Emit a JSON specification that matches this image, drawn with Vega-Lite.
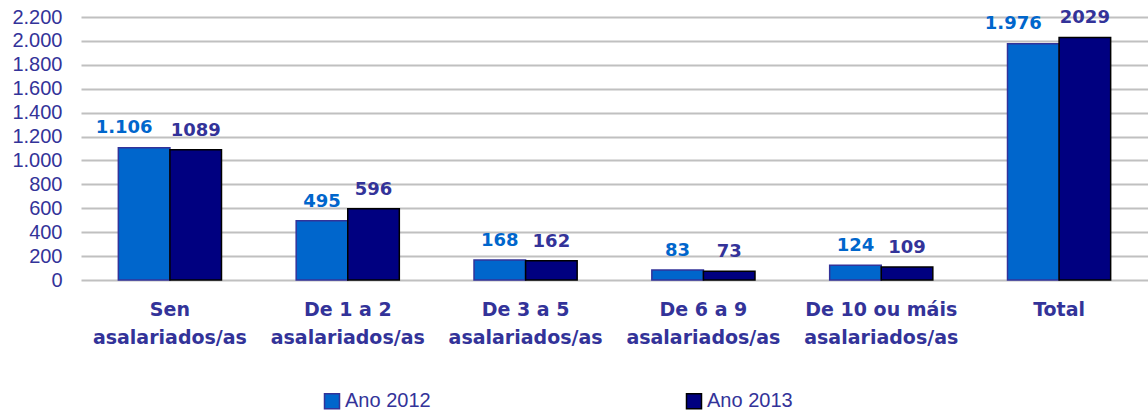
{
  "$schema": "https://vega.github.io/schema/vega-lite/v6.json",
  "width": 1067,
  "height": 263,
  "autosize": {"type": "none"},
  "padding": {"left": 81, "top": 17, "right": 0, "bottom": 130},
  "background": "white",
  "config": {"view": {"stroke": null}},
  "data": {
    "values": [
      {"cat": "Sen\nasalariados/as", "year": "Ano 2012", "value": 1106, "label": "1.106"},
      {"cat": "Sen\nasalariados/as", "year": "Ano 2013", "value": 1089, "label": "1089"},
      {"cat": "De 1 a 2\nasalariados/as", "year": "Ano 2012", "value": 495, "label": "495"},
      {"cat": "De 1 a 2\nasalariados/as", "year": "Ano 2013", "value": 596, "label": "596"},
      {"cat": "De 3 a 5\nasalariados/as", "year": "Ano 2012", "value": 168, "label": "168"},
      {"cat": "De 3 a 5\nasalariados/as", "year": "Ano 2013", "value": 162, "label": "162"},
      {"cat": "De 6 a 9\nasalariados/as", "year": "Ano 2012", "value": 83, "label": "83"},
      {"cat": "De 6 a 9\nasalariados/as", "year": "Ano 2013", "value": 73, "label": "73"},
      {"cat": "De 10 ou máis\nasalariados/as", "year": "Ano 2012", "value": 124, "label": "124"},
      {"cat": "De 10 ou máis\nasalariados/as", "year": "Ano 2013", "value": 109, "label": "109"},
      {"cat": "Total", "year": "Ano 2012", "value": 1976, "label": "1.976"},
      {"cat": "Total", "year": "Ano 2013", "value": 2029, "label": "2029"}
    ]
  },
  "encoding": {
    "x": {
      "field": "cat",
      "type": "nominal",
      "sort": null,
      "scale": {"paddingInner": 0.42, "paddingOuter": 0.21},
      "axis": {
        "title": null,
        "domain": false,
        "ticks": false,
        "labelAngle": 0,
        "labelExpr": "split(datum.label, '\\n')",
        "labelFont": "DejaVu Sans",
        "labelFontWeight": "bold",
        "labelFontSize": 19,
        "labelColor": "#333399",
        "labelLineHeight": 28,
        "labelPadding": 20,
        "labelBaseline": "top"
      }
    },
    "xOffset": {"field": "year", "type": "nominal"},
    "y": {
      "field": "value",
      "type": "quantitative",
      "scale": {"domain": [0, 2200], "nice": false},
      "axis": {
        "title": null,
        "domain": false,
        "ticks": false,
        "values": [0, 200, 400, 600, 800, 1000, 1200, 1400, 1600, 1800, 2000, 2200],
        "labelExpr": "replace(format(datum.value, ','), ',', '.')",
        "labelFont": "Liberation Sans",
        "labelFontSize": 20,
        "labelColor": "#333399",
        "labelPadding": 19,
        "grid": true,
        "gridColor": "#c0c0c0",
        "gridWidth": 2
      }
    }
  },
  "layer": [
    {
      "mark": {"type": "bar", "strokeWidth": 1.5},
      "encoding": {
        "fill": {
          "field": "year",
          "type": "nominal",
          "scale": {"domain": ["Ano 2012", "Ano 2013"], "range": ["#0066CC", "#000080"]},
          "legend": {
            "title": null,
            "orient": "none",
            "legendX": 241,
            "legendY": 374,
            "direction": "horizontal",
            "symbolType": "square",
            "symbolSize": 225,
            "symbolStrokeWidth": 1.5,
            "labelFont": "Liberation Sans",
            "labelFontSize": 20,
            "labelColor": "#333399",
            "labelOffset": 3,
            "columnPadding": 252
          }
        },
        "stroke": {
          "field": "year",
          "type": "nominal",
          "scale": {"domain": ["Ano 2012", "Ano 2013"], "range": ["#333399", "#000000"]},
          "legend": {
            "title": null,
            "orient": "none",
            "legendX": 241,
            "legendY": 374,
            "direction": "horizontal",
            "symbolType": "square",
            "symbolSize": 225,
            "symbolStrokeWidth": 1.5,
            "labelFont": "Liberation Sans",
            "labelFontSize": 20,
            "labelColor": "#333399",
            "labelOffset": 3,
            "columnPadding": 252
          }
        }
      }
    },
    {
      "transform": [{"filter": "!(datum.year == 'Ano 2012' && datum.value > 1000)"}],
      "mark": {"type": "text", "baseline": "bottom", "dy": -10, "font": "DejaVu Sans", "fontWeight": "bold", "fontSize": 18},
      "encoding": {
        "text": {"field": "label"},
        "color": {
          "field": "year",
          "type": "nominal",
          "scale": {"domain": ["Ano 2012", "Ano 2013"], "range": ["#0066CC", "#333399"]},
          "legend": null
        }
      }
    },
    {
      "transform": [{"filter": "datum.year == 'Ano 2012' && datum.value > 1000"}],
      "mark": {"type": "text", "baseline": "bottom", "dy": -11, "dx": -20, "font": "DejaVu Sans", "fontWeight": "bold", "fontSize": 18},
      "encoding": {
        "text": {"field": "label"},
        "color": {
          "field": "year",
          "type": "nominal",
          "scale": {"domain": ["Ano 2012", "Ano 2013"], "range": ["#0066CC", "#333399"]},
          "legend": null
        }
      }
    }
  ]
}
